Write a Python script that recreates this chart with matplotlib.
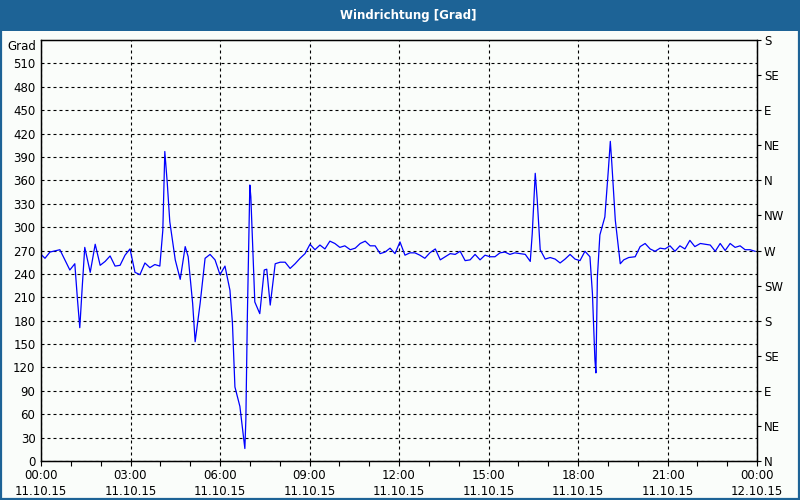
import matplotlib
matplotlib.use('Agg')
import matplotlib.pyplot as plt
from matplotlib.patches import Rectangle
import numpy as np

# Zeit in Minuten ab 11.10.15 00:00, Windrichtung in Grad
minuten = [0, 8, 18, 38, 58, 68, 73, 78, 83, 88, 99, 109, 119, 129, 139, 149, 159,
           169, 179, 189, 199, 209, 219, 229, 239, 245, 249, 254, 259, 270, 280, 290,
           296, 305, 310, 320, 330, 340, 350, 360, 370, 380, 385, 390, 400, 410, 412,
           415, 417, 420, 422, 430, 440, 449, 454, 461, 471, 481, 491, 501, 511, 521,
           531, 541, 551, 561, 571, 581, 591, 601, 611, 622, 632, 642, 652, 662, 672,
           682, 692, 702, 712, 722, 732, 742, 752, 762, 772, 782, 793, 803, 813, 823,
           833, 843, 853, 863, 873, 883, 893, 903, 913, 923, 933, 943, 953, 963, 974,
           984, 988, 994, 998, 1004, 1014, 1024, 1034, 1044, 1054, 1064, 1074, 1084,
           1094, 1104, 1109, 1114, 1116, 1119, 1124, 1134, 1141, 1145, 1148, 1155, 1165,
           1172, 1182, 1195, 1205, 1215, 1225, 1235, 1245, 1255, 1265, 1275, 1285, 1295,
           1305, 1315, 1326, 1336, 1346, 1356, 1366, 1376, 1386, 1396, 1406, 1416, 1426,
           1436]
grad = [265, 260, 268, 271, 245, 253, 210, 171, 224, 274, 242, 278, 251, 256, 263, 250, 251,
        264, 272, 242, 239, 254, 248, 252, 250, 296, 397, 356, 307, 258, 233, 275,
        262, 202, 153, 202, 260, 265, 258, 239, 250, 219, 177, 95, 70, 16, 53,
        185, 251, 354, 339, 204, 189, 245, 246, 200, 253, 255, 255, 247, 253, 260,
        266, 278, 271, 277, 272, 282, 279, 274, 276, 271, 273, 279, 282, 276, 276,
        266, 268, 273, 266, 281, 264, 267, 267, 264, 260, 267, 272, 258, 262, 266,
        265, 269, 257, 258, 265, 258, 264, 262, 262, 267, 268, 265, 267, 266, 265,
        256, 292, 369, 335, 271, 259, 261, 259, 254, 259, 265, 259, 257,
        269, 262, 215, 130, 113, 236, 290, 313, 373, 410, 382, 309, 253,
        258, 261, 262, 275, 279, 272, 269, 273, 272, 276, 269, 276, 272,
        283, 275, 279, 278, 277, 269, 279, 270, 279, 274, 276, 271, 271,
        269]

y_ticks = list(range(0, 511, 30))
rechts_ticks = list(range(0, 541, 45))
rechts_labels = ['N', 'NE', 'E', 'SE', 'S', 'SW', 'W', 'NW', 'N', 'NE', 'E', 'SE', 'S']
x_ticks = list(range(0, 1441, 180))
x_labels = ['00:00\n11.10.15', '03:00\n11.10.15', '06:00\n11.10.15', '09:00\n11.10.15',
            '12:00\n11.10.15', '15:00\n11.10.15', '18:00\n11.10.15', '21:00\n11.10.15',
            '00:00\n12.10.15']

BG = '#FAFDFA'
BLAU = '#1D6396'

fig = plt.figure(figsize=(8, 5), dpi=100, facecolor=BG)

# Titelleiste und Rahmen
fig.patches.append(Rectangle((0, 1 - 31 / 500), 1, 31 / 500, transform=fig.transFigure,
                             facecolor=BLAU, edgecolor='none', zorder=0))
fig.patches.append(Rectangle((0.001, 0.002), 0.998, 0.997, transform=fig.transFigure,
                             facecolor='none', edgecolor=BLAU, lw=1.6, zorder=5))
fig.text(0.51, 1 - 15.5 / 500, 'Windrichtung [Grad]', color='white', fontsize=8.5,
         fontweight='bold', ha='center', va='center')

ax = fig.add_axes([41 / 800, 39 / 500, 716 / 800, 421 / 500], facecolor=BG)
ax.plot(minuten, grad, color='#0000FF', lw=0.9, zorder=3)

ax.set_xlim(0, 1440)
ax.set_ylim(0, 540)
ax.set_yticks(y_ticks)
ax.set_xticks(x_ticks)
ax.set_xticklabels(x_labels, linespacing=1.3)
ax.set_xticks(range(0, 1441, 60), minor=True)
ax.tick_params(axis='y', length=0, pad=4, labelsize=8.5)
ax.tick_params(axis='x', which='both', direction='out', length=3.5, width=0.8,
               pad=2, labelsize=8.5)
ax.grid(True, color='black', lw=0.8, linestyle=(0, (2.7, 2.7)))
for s in ax.spines.values():
    s.set_linewidth(1.0)

ax.text(-0.006, 0.985, 'Grad', transform=ax.transAxes, ha='right', va='center',
        fontsize=8.5)

ax2 = ax.twinx()
ax2.set_ylim(0, 540)
ax2.set_yticks(rechts_ticks)
ax2.set_yticklabels(rechts_labels)
ax2.tick_params(axis='y', direction='out', length=3, width=0.8, pad=2, labelsize=8.5)

fig.savefig('out.png', dpi=100, facecolor=BG)
